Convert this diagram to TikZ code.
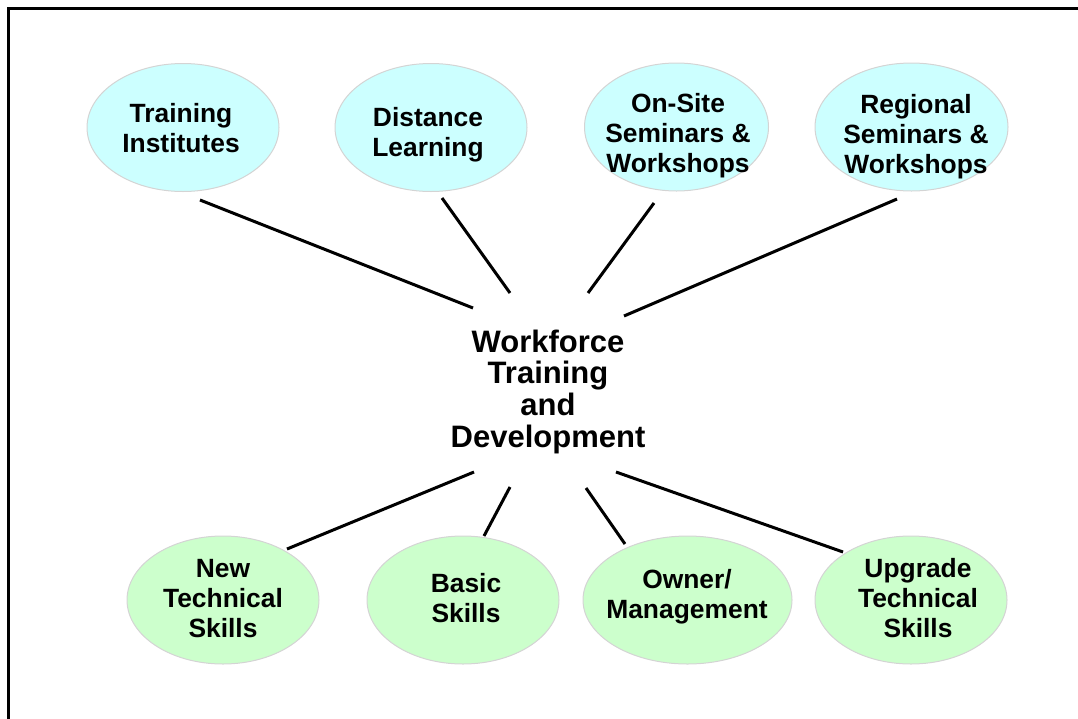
\documentclass[tikz,border=0pt]{standalone}
\usepackage{fontspec}
\setmainfont{Liberation Sans}
\usetikzlibrary{shapes.geometric}
\definecolor{cyanfill}{HTML}{CCFFFF}
\definecolor{greenfill}{HTML}{CCFFCC}
\definecolor{ellgray}{HTML}{D4D4D4}
\newcommand{\stk}[1]{\begin{tabular}[t]{@{}c@{}}#1\end{tabular}}
\begin{document}
\begin{tikzpicture}[x=1pt,y=-1pt,
  ell/.style={ellipse, draw=ellgray, line width=1pt, inner sep=0pt, minimum width=192pt, minimum height=128pt},
  topell/.style={ell, fill=cyanfill},
  botell/.style={ell, fill=greenfill},
  lbl/.style={inner sep=0pt, anchor=base, font=\bfseries\fontsize{26.4}{30}\selectfont},
  hublbl/.style={inner sep=0pt, anchor=base, font=\bfseries\fontsize{31}{31.7}\selectfont},
  conn/.style={line width=3pt},
  frame/.style={line width=2.6pt}]
\useasboundingbox (0,0) rectangle (1078,718);
\clip (0,0) rectangle (1078,718);
\draw[frame] (8.7,8.7) rectangle (1100,740);

% top ellipses
\node[topell] (ti) at (183,127.5) {};
\node[topell] (dl) at (431,127.5) {};
\node[topell, minimum width=184pt] (os) at (676.5,127) {};
\node[topell, minimum width=193pt] (rs) at (911.5,127) {};
% bottom ellipses
\node[botell] (nt) at (223,600) {};
\node[botell] (bs) at (463,600) {};
\node[botell, minimum width=209pt] (om) at (687.5,600) {};
\node[botell] (ut) at (911,600) {};

% labels
\node[lbl] (tiT) at (181,122) {\stk{Training\\Institutes}};
\node[lbl] (dlT) at (428,126) {\stk{Distance\\Learning}};
\node[lbl] (osT) at (678,112) {\stk{On-Site\\Seminars \&\\Workshops}};
\node[lbl] (rsT) at (916,113) {\stk{Regional\\Seminars \&\\Workshops}};
\node[lbl] (ntT) at (223,577) {\stk{New\\Technical\\Skills}};
\node[lbl] (bsT) at (466,592) {\stk{Basic\\Skills}};
\node[lbl] (omT) at (687,588) {\stk{Owner/\\Management}};
\node[lbl] (utT) at (918,577) {\stk{Upgrade\\Technical\\Skills}};
\node[hublbl] (hub) at (548,352) {\stk{Workforce\\Training\\and\\Development}};

% connector end points
\coordinate (c1a) at (200,200); \coordinate (c1b) at (473,308);
\coordinate (c2a) at (442,198); \coordinate (c2b) at (510,293);
\coordinate (c3a) at (654,203); \coordinate (c3b) at (588,293);
\coordinate (c4a) at (897,199); \coordinate (c4b) at (624,316);
\coordinate (c5a) at (474,472); \coordinate (c5b) at (287,549);
\coordinate (c6a) at (510,487); \coordinate (c6b) at (484,536);
\coordinate (c7a) at (586,488); \coordinate (c7b) at (625,544);
\coordinate (c8a) at (616,472); \coordinate (c8b) at (843,552);

\draw[conn] (c1a) -- (c1b);
\draw[conn] (c2a) -- (c2b);
\draw[conn] (c3a) -- (c3b);
\draw[conn] (c4a) -- (c4b);
\draw[conn] (c5a) -- (c5b);
\draw[conn] (c6a) -- (c6b);
\draw[conn] (c7a) -- (c7b);
\draw[conn] (c8a) -- (c8b);
\end{tikzpicture}
\end{document}
